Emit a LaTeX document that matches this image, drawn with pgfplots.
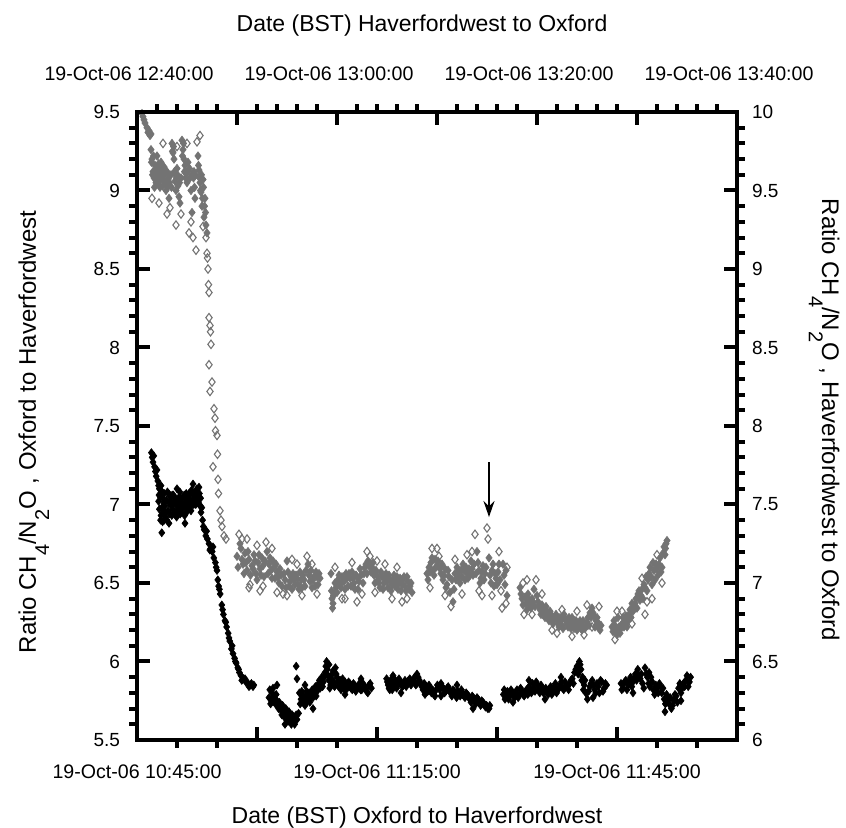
\documentclass[border=0pt]{standalone}
\usepackage{fontspec}
\setmainfont{Liberation Sans}
\usepackage{pgfplots}
\usepackage{pgfplotstable}
\pgfplotsset{compat=1.18}
\usetikzlibrary{arrows.meta}
\definecolor{greyser}{RGB}{115,115,115}

% Oxford -> Haverfordwest: minutes after 10:45, ratio (left axis)
\pgfplotstableread{
t v
1.8 7.33
1.9 7.30
2.0 7.27
2.1 7.31
2.2 7.24
2.3 7.21
2.4 7.18
2.5 7.22
2.6 7.15
2.7 7.12
2.8 7.10
2.7 7.02
2.8 6.97
2.9 7.05
3.0 6.93
3.1 6.98
3.1 6.82
3.2 7.04
3.2 6.89
3.3 6.95
3.4 7.07
3.4 6.90
3.5 6.99
3.6 6.92
3.7 7.03
3.8 7.08
3.9 6.96
4.0 7.01
4.1 6.94
4.2 7.05
4.3 6.99
4.4 7.06
4.5 6.97
4.6 7.02
4.7 6.95
4.8 7.04
4.9 7.00
5.0 6.96
5.1 7.03
5.2 6.98
5.3 7.05
5.4 6.94
5.5 7.01
5.6 6.97
5.7 7.04
5.8 6.99
5.9 7.06
6.0 6.98
6.1 7.02
6.2 6.95
6.3 7.05
6.4 7.00
6.5 7.07
6.6 6.98
6.7 7.03
6.8 7.09
6.9 7.01
7.0 7.06
7.1 7.00
7.2 7.04
7.3 7.08
7.4 7.02
7.5 7.10
7.6 7.05
7.7 7.01
7.8 7.07
7.9 6.99
2.75 7.06
2.95 6.90
3.15 7.08
3.35 7.01
3.55 6.95
3.75 6.90
3.95 7.07
4.15 7.02
4.35 6.93
4.55 7.06
4.75 7.01
4.95 6.92
5.15 6.99
5.35 7.08
5.55 6.95
5.75 7.00
5.95 6.93
6.15 7.07
6.35 6.98
6.55 7.02
6.75 6.96
6.95 7.08
7.15 7.03
7.35 7.00
7.55 7.06
7.75 7.11
7.95 7.04
8.1 6.98
3.0 7.12
4.0 6.88
5.0 7.10
6.0 6.88
7.0 7.13
8.0 6.95
8.2 6.90
8.4 6.84
8.6 6.80
8.8 6.78
9.0 6.75
9.2 6.72
9.4 6.70
9.6 6.66
9.8 6.63
10.0 6.58
10.1 6.52
10.2 6.48
10.4 6.43
10.6 6.36
10.8 6.30
11.0 6.26
11.2 6.22
11.4 6.18
11.6 6.13
11.8 6.08
12.0 6.05
12.2 6.02
12.4 5.99
12.6 5.96
12.8 5.93
13.0 5.91
13.3 5.89
13.6 5.87
13.9 5.86
14.2 5.85
14.5 5.84
8.3 6.86
8.7 6.83
9.1 6.71
9.5 6.73
9.9 6.60
10.3 6.46
10.7 6.33
11.1 6.25
11.5 6.15
11.9 6.10
12.3 6.00
12.7 5.95
13.1 5.88
13.5 5.89
14.0 5.84
14.3 5.86
14.6 5.85
16.5 5.77
16.7 5.73
16.9 5.80
17.0 5.83
17.2 5.76
17.4 5.79
17.6 5.72
17.8 5.74
18.0 5.69
18.2 5.72
18.4 5.67
18.6 5.70
18.8 5.65
19.0 5.68
19.2 5.63
19.4 5.66
19.6 5.62
19.8 5.65
20.0 5.63
20.2 5.67
16.6 5.82
16.8 5.75
17.1 5.78
17.3 5.73
17.5 5.75
17.7 5.70
17.9 5.71
18.1 5.66
18.3 5.69
18.5 5.64
18.7 5.68
18.9 5.62
19.1 5.65
19.3 5.60
19.5 5.64
19.7 5.60
19.9 5.66
17.5 5.85
18.5 5.60
19.9 5.97
20.0 5.89
20.3 5.80
20.5 5.76
20.7 5.79
20.9 5.74
21.1 5.78
21.3 5.75
21.5 5.80
21.7 5.77
21.9 5.82
22.1 5.79
22.3 5.84
22.5 5.81
22.7 5.86
22.9 5.83
23.1 5.90
23.3 5.87
23.5 5.93
23.7 6.00
23.8 5.95
24.0 5.88
24.2 5.85
24.4 5.92
24.6 5.87
24.8 5.96
25.0 5.90
25.2 5.84
25.4 5.88
25.6 5.86
25.8 5.83
26.0 5.87
26.3 5.84
26.6 5.86
26.9 5.82
27.2 5.85
27.5 5.83
27.8 5.86
28.1 5.82
28.4 5.84
28.7 5.81
29.0 5.85
29.3 5.83
20.4 5.73
20.6 5.81
20.8 5.77
21.0 5.72
21.2 5.81
21.4 5.78
21.6 5.74
21.8 5.80
22.0 5.77
22.2 5.81
22.4 5.78
22.6 5.83
22.8 5.88
23.0 5.85
23.2 5.84
23.4 5.90
23.6 5.97
23.9 5.91
24.1 5.83
24.3 5.89
24.5 5.94
24.7 5.84
24.9 5.92
25.1 5.87
25.3 5.85
25.5 5.82
25.7 5.89
25.9 5.85
26.15 5.82
26.45 5.87
26.75 5.83
27.05 5.86
27.35 5.81
27.65 5.84
27.95 5.82
28.25 5.86
28.55 5.83
28.85 5.80
29.15 5.86
21.0 5.85
22.0 5.70
24.0 5.98
26.0 5.79
28.0 5.89
31.2 5.89
31.4 5.85
31.6 5.82
31.8 5.86
32.0 5.84
32.3 5.88
32.6 5.85
32.9 5.87
33.2 5.84
33.5 5.88
33.8 5.86
34.1 5.89
34.4 5.87
34.7 5.90
35.0 5.86
35.3 5.88
35.6 5.84
35.9 5.86
36.2 5.83
36.5 5.85
36.8 5.80
37.1 5.79
37.4 5.82
37.7 5.84
38.0 5.86
38.3 5.83
38.6 5.81
38.9 5.84
39.2 5.80
39.5 5.82
39.8 5.79
40.1 5.81
40.4 5.78
40.7 5.80
41.0 5.77
41.3 5.79
41.6 5.76
41.9 5.78
42.2 5.75
42.5 5.77
42.8 5.74
43.1 5.75
43.4 5.73
43.7 5.72
44.0 5.70
31.3 5.87
31.5 5.83
31.7 5.88
31.9 5.82
32.15 5.86
32.45 5.83
32.75 5.89
33.05 5.85
33.35 5.86
33.65 5.84
33.95 5.88
34.25 5.85
34.55 5.88
34.85 5.85
35.15 5.90
35.45 5.86
35.75 5.82
36.05 5.85
36.35 5.81
36.65 5.83
36.95 5.82
37.25 5.78
37.55 5.85
37.85 5.82
38.15 5.84
38.45 5.80
38.75 5.83
39.05 5.82
39.35 5.78
39.65 5.81
39.95 5.77
40.25 5.79
40.55 5.82
40.85 5.78
41.15 5.80
41.45 5.78
41.75 5.74
42.05 5.77
42.35 5.73
42.65 5.76
42.95 5.72
43.25 5.74
43.55 5.71
43.85 5.70
44.1 5.72
32.0 5.91
33.0 5.80
35.0 5.92
36.0 5.79
38.0 5.78
40.0 5.85
42.0 5.70
45.8 5.79
46.0 5.76
46.3 5.81
46.6 5.78
46.9 5.80
47.2 5.77
47.5 5.82
47.8 5.79
48.1 5.81
48.4 5.78
48.7 5.82
49.0 5.84
49.3 5.80
49.6 5.83
49.9 5.87
50.2 5.82
50.5 5.85
50.8 5.80
51.1 5.83
51.4 5.79
51.7 5.84
52.0 5.81
52.3 5.86
52.6 5.82
52.9 5.85
53.2 5.83
53.5 5.87
53.8 5.84
54.1 5.86
54.4 5.89
54.7 5.93
55.0 5.97
55.3 6.00
55.5 5.95
55.7 5.90
55.9 5.85
56.1 5.80
56.3 5.76
56.6 5.84
56.9 5.88
57.2 5.82
57.5 5.86
57.8 5.80
58.1 5.87
58.4 5.83
58.7 5.85
45.9 5.82
46.15 5.78
46.45 5.76
46.75 5.82
47.05 5.79
47.35 5.80
47.65 5.77
47.95 5.83
48.25 5.79
48.55 5.81
48.85 5.79
49.15 5.82
49.45 5.86
49.75 5.81
50.05 5.85
50.35 5.80
50.65 5.83
50.95 5.82
51.25 5.81
51.55 5.82
51.85 5.79
52.15 5.84
52.45 5.80
52.75 5.83
53.05 5.87
53.35 5.82
53.65 5.85
53.95 5.82
54.25 5.88
54.55 5.86
54.85 5.95
55.15 5.92
55.4 5.98
55.6 5.88
55.8 5.82
56.0 5.88
56.45 5.81
56.75 5.86
57.05 5.85
57.35 5.80
57.65 5.84
57.95 5.88
58.25 5.81
58.55 5.86
47.0 5.74
49.0 5.88
51.0 5.76
53.0 5.90
57.0 5.77
60.5 5.86
60.8 5.83
61.1 5.88
61.4 5.85
61.7 5.90
62.0 5.87
62.3 5.92
62.6 5.95
62.9 5.89
63.2 5.86
63.5 5.96
63.8 5.90
64.1 5.84
64.4 5.87
64.7 5.79
65.0 5.83
65.3 5.86
65.6 5.80
65.9 5.76
66.2 5.79
66.5 5.73
66.8 5.70
67.1 5.75
67.4 5.78
67.7 5.83
68.0 5.80
68.3 5.86
68.6 5.88
68.9 5.84
69.2 5.90
60.6 5.82
60.95 5.87
61.25 5.82
61.55 5.87
61.85 5.84
62.15 5.89
62.45 5.88
62.75 5.91
63.05 5.92
63.35 5.83
63.65 5.92
63.95 5.86
64.25 5.90
64.55 5.82
64.85 5.85
65.15 5.80
65.45 5.84
65.75 5.83
66.05 5.73
66.35 5.76
66.65 5.77
66.95 5.72
67.25 5.79
67.55 5.74
67.85 5.86
68.15 5.83
68.45 5.84
68.75 5.91
69.05 5.87
62.0 5.80
64.0 5.93
66.0 5.68
68.0 5.75
}\oxhav

% Haverfordwest -> Oxford: minutes after 12:40, ratio (right axis), dense band
\pgfplotstableread{
t v
0.5 9.99
0.6 9.97
0.7 9.95
0.8 9.93
1.0 9.90
1.1 9.87
1.2 9.88
1.3 9.85
1.4 9.86
1.4 9.76
1.5 9.70
1.6 9.62
1.7 9.58
1.8 9.66
1.9 9.55
2.0 9.72
2.1 9.60
2.2 9.64
2.3 9.52
2.4 9.68
2.5 9.58
2.6 9.61
2.7 9.65
2.8 9.55
2.9 9.50
3.0 9.62
3.1 9.57
3.2 9.45
3.4 9.60
3.5 9.80
3.6 9.74
3.7 9.70
3.8 9.56
3.9 9.50
4.0 9.64
4.1 9.53
4.2 9.46
4.3 9.42
4.4 9.58
4.5 9.82
4.6 9.76
4.7 9.70
4.8 9.66
4.9 9.61
5.0 9.55
5.1 9.68
5.3 9.58
5.4 9.50
5.5 9.36
5.7 9.62
5.8 9.45
6.1 9.72
6.2 9.63
6.3 9.55
6.4 9.49
6.5 9.40
6.6 9.57
6.7 9.33
6.8 9.45
6.9 9.28
7.0 9.23
1.45 9.68
1.55 9.60
1.65 9.72
1.75 9.52
1.85 9.63
1.95 9.58
2.05 9.55
2.15 9.67
2.25 9.61
2.35 9.57
2.45 9.63
2.55 9.53
2.65 9.57
2.75 9.60
2.85 9.63
2.95 9.56
3.05 9.52
3.15 9.60
3.25 9.55
3.45 9.52
3.55 9.75
3.65 9.78
3.75 9.62
3.85 9.60
3.95 9.58
4.05 9.60
4.25 9.55
4.55 9.72
4.65 9.80
4.75 9.62
4.85 9.58
5.05 9.62
5.25 9.64
5.45 9.60
5.65 9.58
5.75 9.52
5.85 9.60
6.15 9.66
6.25 9.58
6.35 9.50
6.45 9.60
6.55 9.45
6.65 9.52
6.75 9.40
6.85 9.36
10.0 7.17
10.4 7.22
10.6 7.12
10.8 7.19
11.0 7.08
11.2 7.15
11.5 7.11
11.7 7.18
11.9 7.06
12.1 7.13
12.3 7.09
12.5 7.16
12.7 7.04
13.0 7.20
13.2 7.12
13.4 7.08
13.6 7.14
13.8 7.03
14.0 7.07
14.2 7.00
14.4 7.05
14.8 7.02
15.0 7.14
15.2 6.98
15.4 7.04
15.6 7.06
15.8 6.99
16.0 7.03
16.2 6.96
16.4 7.02
16.6 7.05
16.8 6.98
17.1 7.12
17.3 7.01
17.5 6.97
17.7 7.04
17.9 7.07
18.1 6.99
18.3 7.03
10.1 7.10
10.3 7.25
10.5 7.15
10.7 7.06
10.9 7.13
11.1 7.20
11.35 7.05
11.6 7.09
11.8 7.14
12.0 7.02
12.2 7.18
12.4 7.05
12.6 7.11
12.8 7.14
13.1 7.06
13.3 7.16
13.5 7.03
13.7 7.10
13.9 7.12
14.1 7.04
14.3 7.09
14.5 6.98
14.7 7.06
14.9 6.97
15.1 7.07
15.3 7.01
15.5 6.96
15.7 7.02
15.9 7.05
16.1 6.99
16.3 7.07
16.5 6.97
16.7 7.02
16.9 7.08
17.2 7.05
17.4 7.08
17.6 7.02
17.8 6.98
18.0 7.04
18.2 7.06
19.4 7.06
19.5 6.90
19.6 6.87
19.7 6.93
19.9 6.97
20.1 7.02
20.3 6.99
20.5 7.04
20.7 7.01
20.9 7.06
21.1 6.98
21.3 7.03
21.5 7.07
21.7 7.00
21.9 7.05
22.1 6.96
22.3 7.09
22.7 7.06
22.9 7.12
23.1 7.14
23.5 7.10
23.7 7.05
23.9 7.08
24.1 7.02
24.3 6.97
24.5 7.04
24.7 7.00
24.9 7.06
25.1 6.97
25.3 7.02
25.5 6.99
25.7 7.05
25.9 7.01
26.1 6.96
26.3 7.03
26.5 6.99
26.7 7.04
26.9 6.95
27.1 7.01
27.3 6.98
27.5 6.94
19.45 6.95
19.55 6.84
19.65 6.92
19.8 7.00
20.0 6.94
20.2 7.05
20.4 6.97
20.6 7.01
20.8 6.96
21.0 7.03
21.2 7.06
21.4 6.98
21.6 7.03
21.8 6.96
22.0 7.04
22.2 7.01
22.4 7.05
22.6 7.00
22.8 7.10
23.0 7.06
23.2 7.11
23.4 7.07
23.6 7.13
23.8 7.00
24.0 7.05
24.2 7.00
24.4 7.07
24.6 6.96
24.8 7.03
25.0 7.01
25.2 7.05
25.4 6.95
25.6 7.02
25.8 6.98
26.0 7.04
26.2 7.00
26.4 6.95
26.6 7.02
26.8 6.98
27.0 7.04
27.2 6.96
27.4 7.00
29.0 7.06
29.2 7.10
29.4 7.13
29.6 7.08
29.8 7.15
30.0 7.11
30.4 7.06
30.6 7.02
30.8 7.09
31.0 6.99
31.2 7.04
31.6 6.88
31.8 7.06
32.0 7.10
32.2 7.04
32.4 7.08
32.6 7.12
32.8 7.02
33.0 7.06
33.2 7.09
33.4 7.14
33.6 7.05
34.0 7.20
34.2 7.08
34.4 7.03
34.6 7.11
34.8 7.06
35.2 7.16
35.4 7.00
35.6 7.12
35.8 7.06
36.0 6.99
36.2 7.12
36.6 7.12
36.8 6.99
37.0 6.92
29.1 7.02
29.3 7.07
29.5 7.16
29.7 7.05
29.9 7.10
30.1 7.14
30.3 7.09
30.5 7.12
30.7 7.05
30.9 6.97
31.1 7.08
31.3 6.94
31.5 7.02
31.7 6.96
31.9 7.02
32.1 7.07
32.3 7.00
32.5 7.04
32.7 7.08
32.9 7.10
33.1 7.03
33.3 7.05
33.5 7.09
33.7 7.12
33.9 7.06
34.1 7.13
34.3 7.00
34.5 7.07
34.7 7.02
34.9 7.10
35.3 7.05
35.5 7.08
35.7 6.98
35.9 7.03
36.1 7.07
36.3 7.02
36.7 7.05
36.9 7.08
38.3 6.97
38.5 6.90
38.9 6.87
39.1 6.93
39.3 6.86
39.5 6.90
39.7 6.96
40.1 6.88
40.3 6.83
40.5 6.86
40.7 6.81
40.9 6.85
41.1 6.79
41.3 6.82
41.5 6.78
41.7 6.76
41.9 6.80
42.1 6.74
42.3 6.78
42.5 6.73
42.7 6.80
42.9 6.76
43.1 6.72
43.3 6.75
43.5 6.78
43.7 6.71
43.9 6.76
44.1 6.74
44.3 6.76
44.5 6.70
44.9 6.73
45.1 6.78
45.3 6.81
45.5 6.84
45.7 6.79
45.9 6.76
46.1 6.72
46.3 6.70
38.4 6.93
38.6 6.86
38.8 6.91
39.0 6.83
39.2 6.89
39.4 6.84
39.6 6.88
39.8 6.85
40.0 6.92
40.2 6.85
40.4 6.80
40.6 6.83
40.8 6.78
41.0 6.82
41.2 6.76
41.4 6.80
41.6 6.74
41.8 6.78
42.0 6.77
42.2 6.72
42.4 6.76
42.6 6.71
42.8 6.77
43.0 6.74
43.2 6.78
43.4 6.71
43.6 6.74
43.8 6.73
44.0 6.70
44.2 6.72
44.4 6.73
44.6 6.76
44.8 6.71
45.0 6.75
45.2 6.73
45.4 6.78
45.6 6.81
45.8 6.72
46.0 6.78
46.2 6.74
46.4 6.73
47.5 6.72
47.7 6.76
47.9 6.70
48.1 6.78
48.3 6.68
48.5 6.74
48.7 6.72
48.9 6.79
49.1 6.76
49.3 6.83
49.5 6.87
49.7 6.85
49.9 6.90
50.1 6.93
50.3 6.89
50.5 6.96
50.7 6.99
50.9 7.04
51.1 7.02
51.3 7.10
51.5 6.99
51.7 7.08
51.9 7.12
52.1 7.05
52.3 7.16
52.5 7.10
52.7 7.23
52.8 7.18
52.9 7.25
53.0 7.27
47.6 6.69
47.8 6.73
48.0 6.67
48.2 6.72
48.4 6.71
48.6 6.78
48.8 6.75
49.0 6.72
49.2 6.80
49.4 6.78
49.6 6.82
49.8 6.87
50.0 6.84
50.2 6.95
50.4 6.92
50.6 6.90
50.8 6.97
51.0 6.95
51.2 7.06
51.4 7.04
51.6 7.13
51.8 7.02
52.0 7.09
52.2 7.12
52.4 7.07
52.6 7.19
52.85 7.22
}\havoxband

% Haverfordwest -> Oxford: scattered open points
\pgfplotstableread{
t v
3.3 9.39
3.9 9.28
5.2 9.23
5.6 9.20
5.9 9.12
6.0 9.81
1.5 9.45
2.2 9.42
2.6 9.80
3.0 9.35
4.0 9.78
4.4 9.35
5.0 9.80
5.4 9.30
6.3 9.85
6.6 9.27
6.9 9.20
7.0 9.10
7.05 9.07
7.1 9.00
7.15 8.90
7.2 8.85
7.2 8.69
7.3 8.64
7.35 8.60
7.4 8.52
7.2 8.39
7.5 8.28
7.3 8.22
7.7 8.11
7.8 8.05
7.85 7.97
8.0 7.94
8.05 7.82
7.6 7.74
8.1 7.66
8.15 7.57
8.3 7.46
8.4 7.40
8.5 7.36
8.7 7.30
8.9 7.28
10.2 7.31
11.0 7.28
11.3 6.99
12.3 6.95
12.9 7.26
14.6 6.93
16.0 7.12
17.0 7.17
10.5 7.28
11.2 6.97
12.0 7.24
12.6 6.98
13.5 7.22
14.0 6.94
15.0 6.92
15.5 7.15
16.5 6.92
17.5 7.12
18.0 6.93
19.8 7.10
20.8 6.90
21.5 7.13
22.0 6.88
23.0 7.20
23.8 6.94
24.8 7.12
25.5 6.90
26.0 7.10
27.0 6.90
20.5 6.90
22.5 6.93
23.3 7.17
24.0 7.14
26.5 6.88
29.5 7.22
30.2 7.17
31.4 6.85
33.0 7.18
33.8 7.31
34.5 6.92
35.0 7.35
35.1 7.28
36.4 6.95
36.5 6.84
37.0 7.10
29.3 6.97
30.0 7.22
30.8 6.92
31.8 7.15
32.5 6.93
33.5 7.20
34.2 6.95
35.5 6.92
36.2 7.20
36.9 6.87
38.7 6.80
39.0 7.02
39.9 7.02
42.0 6.68
44.7 6.67
45.0 6.86
38.6 7.00
39.5 6.80
40.5 6.93
41.5 6.70
42.5 6.83
43.5 6.66
44.0 6.82
45.5 6.72
46.2 6.85
48.0 6.82
50.8 6.80
51.5 6.90
47.8 6.64
48.5 6.82
49.5 6.74
50.5 7.03
51.0 6.88
52.0 7.18
52.5 7.00
}\havoxopen

\pgfplotsset{
  common/.style={
    scale only axis, width=300pt, height=314pt,
    at={(0pt,0pt)}, anchor=south west,
    axis line style={line width=2.4pt},
    tick style={line width=2pt, black},
    every tick/.append style={line width=2pt},
    tick align=inside, major tick length=6.5pt, minor tick length=-4pt,
    yticklabel style={font=\fontsize{9.5}{11}\selectfont},
    xticklabel style={font=\fontsize{9.8}{11}\selectfont},
    /pgf/number format/assume math mode=true,
  }
}

\newcommand{\lsub}[1]{\raisebox{-0.55em}{\fontsize{10}{12}\selectfont #1}}

\begin{document}
\begin{tikzpicture}
\path[use as bounding box] (-68.5pt,-44pt) rectangle (354.5pt,370pt);

\begin{axis}[common,
  xmin=0, xmax=75, ymin=5.5, ymax=9.5,
  xtick={0,15,30,45,60,75},
  xticklabels={19-Oct-06 10:45:00,,19-Oct-06 11:15:00,,19-Oct-06 11:45:00,},
  minor x tick num=2,
  ytick={5.5,6,6.5,7,7.5,8,8.5,9,9.5},
  minor y tick num=4,
  xtick pos=left, ytick pos=left,
  xticklabel style={yshift=-9pt},
  yticklabel style={xshift=-5pt},
]
\addplot[only marks, mark=diamond*, mark size=2.0pt, black, line width=0.3pt] table[x=t,y=v] {\oxhav};
\end{axis}

\begin{axis}[common,
  xmin=0, xmax=60, ymin=6, ymax=10,
  xtick={0,10,20,30,40,50,60},
  xticklabels={19-Oct-06 12:40:00,,19-Oct-06 13:00:00,,19-Oct-06 13:20:00,,19-Oct-06 13:40:00},
  minor x tick num=4,
  ytick={6,6.5,7,7.5,8,8.5,9,9.5,10},
  minor y tick num=4,
  xtick pos=right, ytick pos=right,
  xticklabel pos=right, yticklabel pos=right,
  xticklabel style={yshift=12pt, xshift=-4pt},
  yticklabel style={xshift=4pt},
]
\addplot[only marks, mark=diamond*, mark size=2.1pt, greyser, line width=0.3pt] table[x=t,y=v] {\havoxband};
\addplot[only marks, mark=diamond, mark size=2.1pt, greyser, line width=0.55pt] table[x=t,y=v] {\havoxopen};
\draw[line width=0.8pt, -{Stealth[length=8pt,width=5.5pt]}] (axis cs:35.2,7.77) -- (axis cs:35.2,7.42);
\end{axis}

\draw[line width=2.4pt] (0pt,0pt) rectangle (300pt,314pt);

\node[font=\fontsize{11.5}{13}\selectfont] at (142.5pt,357pt) {Date (BST) Haverfordwest to Oxford};
\node[font=\fontsize{11.5}{13}\selectfont] at (140pt,-39pt) {Date (BST) Oxford to Haverfordwest};
\node[font=\fontsize{12}{14}\selectfont, rotate=90, anchor=base] at (-50.5pt,154pt) {Ratio CH\lsub{4}/N\lsub{2}O , Oxford to Haverfordwest};
\node[font=\fontsize{12}{14}\selectfont, rotate=-90, anchor=base] at (342.5pt,160pt) {Ratio CH\lsub{4}/N\lsub{2}O , Haverfordwest to Oxford};
\end{tikzpicture}
\end{document}
